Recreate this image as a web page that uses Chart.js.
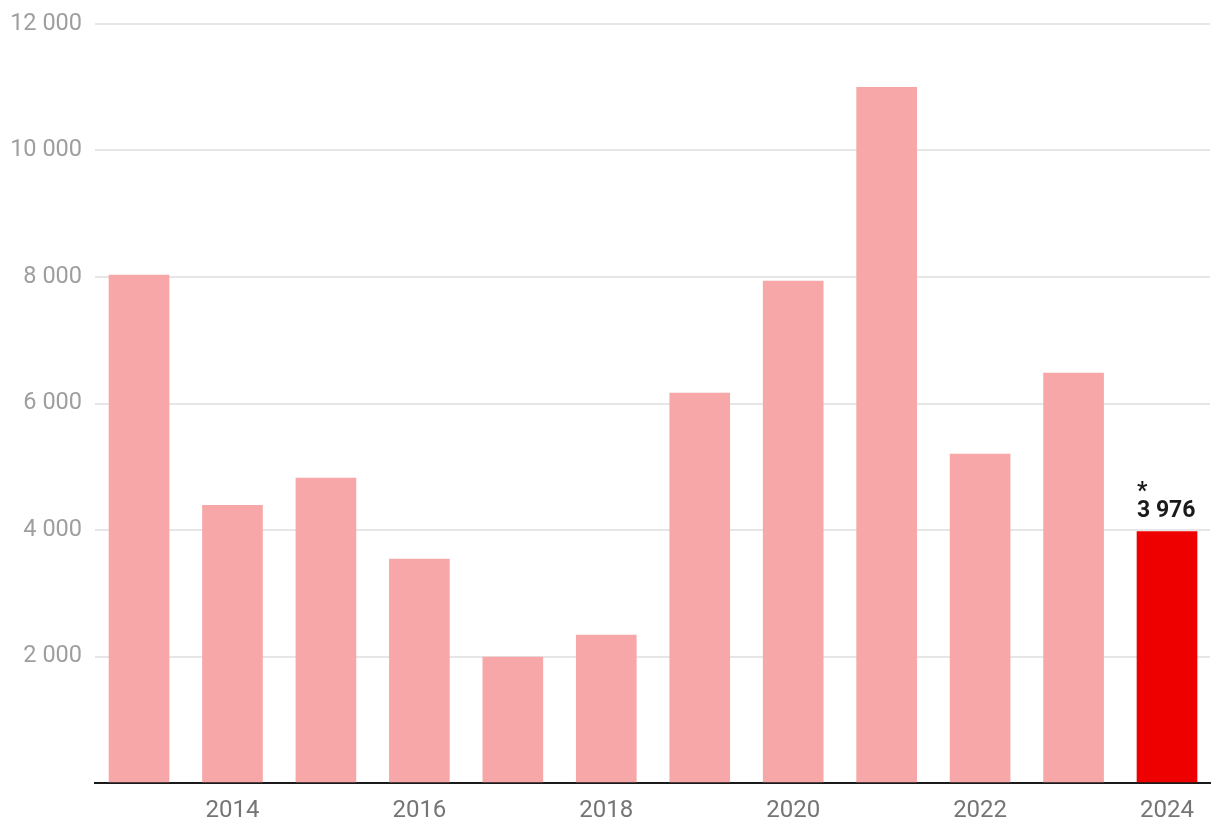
<!DOCTYPE html>
<html>
<head>
<meta charset="utf-8">
<script src="https://cdn.jsdelivr.net/npm/chart.js@4.4.1/dist/chart.umd.min.js"></script>
<style>
  html, body { margin: 0; padding: 0; background: #fff; }
  #wrap { width: 1220px; height: 840px; position: relative; }
</style>
</head>
<body>
<div id="wrap"><canvas id="c"></canvas></div>
<script>
// ---- data ----
const years = [2013, 2014, 2015, 2016, 2017, 2018, 2019, 2020, 2021, 2022, 2023, 2024];
const values = [8030, 4390, 4820, 3540, 1990, 2340, 6165, 7935, 11000, 5200, 6480, 3976];
const xTickYears = [2014, 2016, 2018, 2020, 2022, 2024];
const yTicks = [0, 2000, 4000, 6000, 8000, 10000, 12000];
const highlightYear = 2024;
const highlightNote = '*';

const fmt = v => String(v).replace(/\B(?=(\d{3})+(?!\d))/g, ' ');

const PINK = '#f7a7a8';
const RED = '#ee0000';

const highlightLabel = {
  id: 'highlightLabel',
  afterDatasetsDraw(chart) {
    const meta = chart.getDatasetMeta(0);
    const idx = years.indexOf(highlightYear);
    const bar = meta.data[idx];
    if (!bar) return;
    const ctx = chart.ctx;
    const left = bar.x - bar.width / 2;
    ctx.save();
    ctx.fillStyle = '#1a1a1a';
    ctx.textAlign = 'left';
    ctx.textBaseline = 'alphabetic';
    ctx.font = 'bold 23px Roboto';
    ctx.fillText(fmt(values[idx]), left, bar.y - 15);
    ctx.fillText(highlightNote, left, bar.y - 34);
    ctx.restore();
  }
};

new Chart(document.getElementById('c'), {
  type: 'bar',
  data: {
    datasets: [{
      data: years.map((y, i) => ({ x: y, y: values[i] })),
      backgroundColor: years.map(y => y === highlightYear ? RED : PINK),
      barThickness: 60,
      borderWidth: 0
    }]
  },
  options: {
    responsive: true,
    maintainAspectRatio: false,
    animation: false,
    devicePixelRatio: 1,
    layout: { padding: { left: 0, right: 10, top: 24, bottom: 0 } },
    plugins: { legend: { display: false }, tooltip: { enabled: false } },
    scales: {
      x: {
        type: 'linear',
        offset: false,
        min: 2012.529,
        max: 2024.46,
        afterBuildTicks: s => { s.ticks = xTickYears.map(v => ({ value: v })); },
        afterFit: s => { s.height = 57; s.paddingLeft = 0; s.paddingRight = 0; },
        grid: { display: false, drawTicks: false, offset: false },
        border: { display: true, color: '#1a1a1a', width: 2 },
        ticks: {
          padding: 14,
          color: '#757575',
          font: { family: 'Roboto', size: 24 },
          callback: v => String(v),
          maxRotation: 0,
          autoSkip: false
        }
      },
      y: {
        min: 0,
        max: 12000,
        afterBuildTicks: s => { s.ticks = yTicks.map(v => ({ value: v })); },
        afterFit: s => { s.width = 95; s.paddingTop = 0; s.paddingBottom = 0; },
        grid: { color: '#e6e6e6', lineWidth: 2, drawTicks: false },
        border: { display: false },
        ticks: {
          padding: 13,
          color: '#9e9e9e',
          font: { family: 'Roboto', size: 23.5 },
          callback: v => v === 0 ? '' : fmt(v)
        }
      }
    }
  },
  plugins: [highlightLabel]
});
</script>
</body>
</html>
